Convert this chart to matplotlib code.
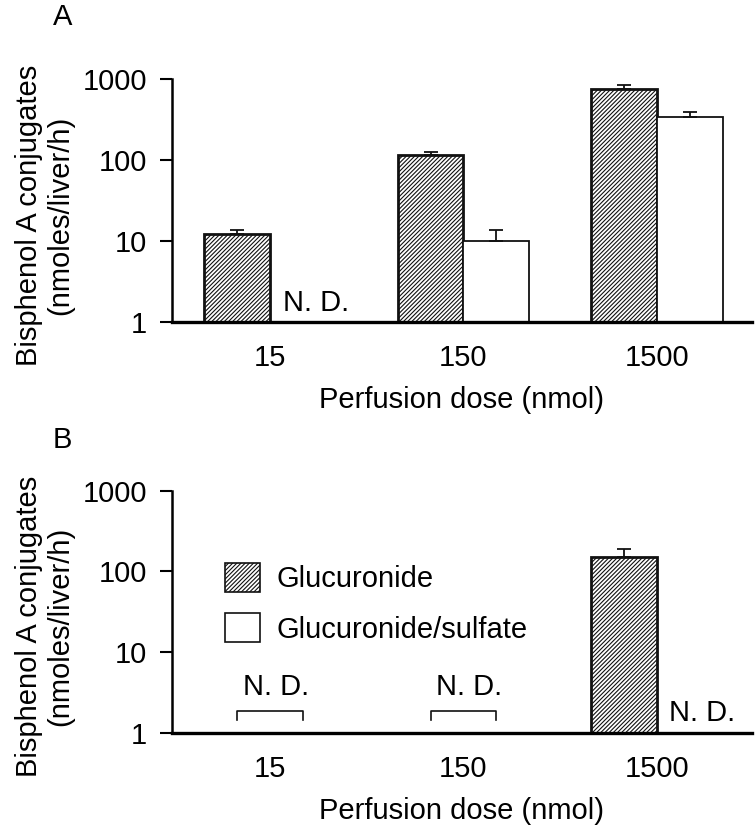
import matplotlib

matplotlib.use("Agg")
import matplotlib.pyplot as plt
import numpy as np
from matplotlib.patches import Patch

plt.rcParams["font.family"] = ["Liberation Sans", "DejaVu Sans"]
plt.rcParams["hatch.linewidth"] = 0.8
plt.rcParams["hatch.color"] = "#222222"

# Data (nmoles/liver/h); None = not detected
doses = ["15", "150", "1500"]
a_gluc = [12.2, 115, 750]
a_gluc_err = [1.5, 11, 90]
a_sulf = [None, 10.0, 340]
a_sulf_err = [0, 3.7, 52]
b_gluc = [None, None, 150]
b_gluc_err = [0, 0, 42]
b_sulf = [None, None, None]
b_sulf_err = [0, 0, 0]

series_labels = ["Glucuronide", "Glucuronide/sulfate"]
ylabel = "Bisphenol A conjugates\n(nmoles/liver/h)"
xlabel = "Perfusion dose (nmol)"

W = 0.34
FS = 21
HATCH = "////////"


def draw_panel(ax, gluc, gluc_err, sulf, sulf_err):
    x = np.arange(len(doses))
    ax.set_yscale("log")
    for vals, errs, off, style in [
        (gluc, gluc_err, -W / 2, dict(facecolor="white", edgecolor="#111111",
                                       hatch=HATCH, linewidth=2.0)),
        (sulf, sulf_err, W / 2, dict(facecolor="white", edgecolor="#111111",
                                      linewidth=1.3)),
    ]:
        for i, (v, e) in enumerate(zip(vals, errs)):
            if v is None:
                continue
            ax.bar(x[i] + off, v - 1, bottom=1, width=W, zorder=2, **style)
            ax.errorbar(x[i] + off, v, yerr=[[0], [e]], fmt="none",
                        ecolor="#111111", elinewidth=1.3, capsize=5,
                        capthick=1.3, zorder=3)
    ax.set_ylim(1, 1000)
    ax.set_xlim(-0.505, 2.49)
    ax.set_yticks([1, 10, 100, 1000])
    ax.set_yticklabels(["1", "10", "100", "1000"])
    ax.minorticks_off()
    ax.set_xticks(x)
    ax.set_xticklabels(doses)
    ax.tick_params(axis="x", length=0, pad=16, labelsize=FS)
    ax.tick_params(axis="y", length=9, width=1.5, pad=9, labelsize=FS)
    for s in ["top", "right"]:
        ax.spines[s].set_visible(False)
    ax.spines["left"].set_linewidth(1.8)
    ax.spines["bottom"].set_linewidth(2.4)
    ax.set_ylabel(ylabel, fontsize=FS, labelpad=6, linespacing=1.15)
    ax.yaxis.label.set_y(0.44)
    ax.set_xlabel(xlabel, fontsize=FS, labelpad=10)


def nd_bracket(ax, xc, y_text, y_br, y_end):
    half = W / 2
    ax.plot([xc - half, xc - half, xc + half, xc + half],
            [y_end, y_br, y_br, y_end], color="#111111", lw=1.2,
            clip_on=False)
    ax.text(xc + 0.03, y_text, "N. D.", ha="center", va="center", fontsize=FS)


fig = plt.figure(figsize=(7.56, 8.31), dpi=100)
axA = fig.add_axes([0.2275, 0.6125, 0.7672, 0.2925])
axB = fig.add_axes([0.2275, 0.1179, 0.7672, 0.2916])

draw_panel(axA, a_gluc, a_gluc_err, a_sulf, a_sulf_err)
draw_panel(axB, b_gluc, b_gluc_err, b_sulf, b_sulf_err)

# N.D. annotations
axA.text(0.067, 1.72, "N. D.", ha="left", va="center", fontsize=FS)
nd_bracket(axB, 0, 3.7, 1.87, 1.45)
nd_bracket(axB, 1, 3.7, 1.87, 1.45)
axB.text(2.062, 1.77, "N. D.", ha="left", va="center", fontsize=FS)

# legend in panel B
handles = [
    Patch(facecolor="white", edgecolor="#111111", hatch=HATCH, linewidth=1.2),
    Patch(facecolor="white", edgecolor="#111111", linewidth=1.2),
]
axB.legend(handles, series_labels, loc="upper left", bbox_to_anchor=(0.072, 0.751),
           frameon=False, fontsize=FS, handlelength=1.2, handleheight=1.17,
           labelspacing=0.68, handletextpad=0.55, borderaxespad=0)

fig.text(0.070, 0.9795, "A", fontsize=FS, ha="left", va="center")
fig.text(0.070, 0.4705, "B", fontsize=FS, ha="left", va="center")

fig.savefig("out.png", dpi=100)
